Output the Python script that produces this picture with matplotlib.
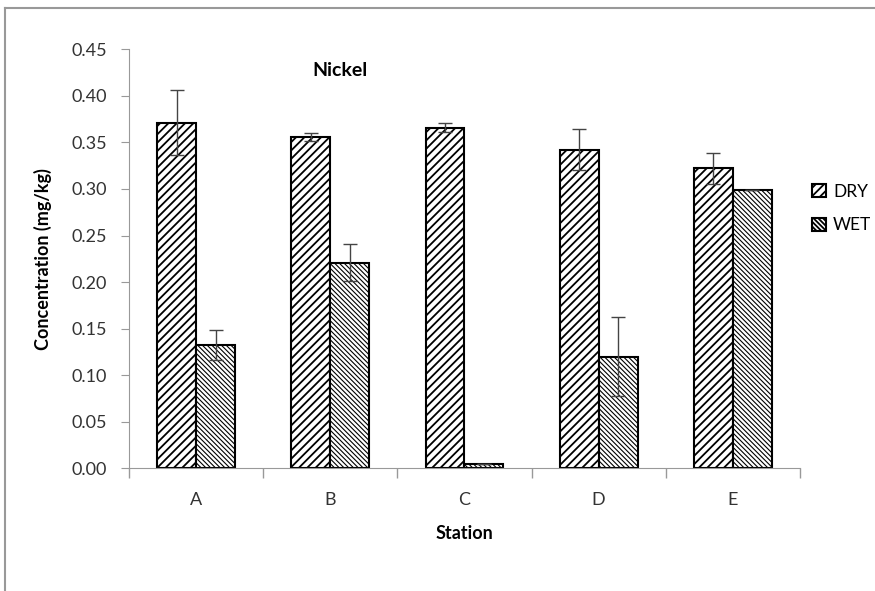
import matplotlib.pyplot as plt
import numpy as np
from matplotlib.lines import Line2D

# data
stations = ['A', 'B', 'C', 'D', 'E']
dry = [0.371, 0.356, 0.366, 0.342, 0.322]
dry_err = [0.035, 0.004, 0.005, 0.022, 0.017]
wet = [0.132, 0.221, 0.005, 0.120, 0.299]
wet_err = [0.016, 0.020, 0.0, 0.042, 0.0]

plt.rcParams['font.family'] = ['Lato', 'DejaVu Sans']
plt.rcParams['hatch.linewidth'] = 1.3

fig = plt.figure(figsize=(8.75, 5.91), dpi=100)
ax = fig.add_axes([0.1474, 0.2076, 0.7668, 0.709])

x = np.arange(len(stations))
w = 0.29
ax.bar(x - w / 2, dry, w, color='white', edgecolor='black', hatch='////',
       linewidth=1.5, label='DRY')
wet_bars = ax.bar(x + w / 2, wet, w, color='white', edgecolor='black',
                  hatch='\\\\\\\\\\\\\\', linewidth=1.5, label='WET')
for b in wet_bars:
    if hasattr(b, 'set_hatch_linewidth'):
        b.set_hatch_linewidth(0.8)
ax.errorbar(x - w / 2, dry, yerr=dry_err, fmt='none', ecolor='#444444',
            elinewidth=1, capsize=5)
ax.errorbar(x + w / 2, wet, yerr=wet_err, fmt='none', ecolor='#444444',
            elinewidth=1, capsize=5)

ax.set_xlim(-0.5, 4.5)
ax.set_ylim(0, 0.45)
ax.set_yticks(np.arange(0, 0.451, 0.05))
ax.set_yticklabels([f'{v:.2f}' for v in np.arange(0, 0.451, 0.05)])
ax.set_xticks(x)
ax.set_xticklabels(stations)
ax.set_xticks(np.arange(-0.5, 4.6, 1), minor=True)
ax.tick_params(axis='x', which='major', length=0, pad=17, labelsize=13)
ax.tick_params(axis='x', which='minor', length=7, width=1)
ax.tick_params(axis='y', length=6, color='#999999', labelsize=13,
               labelcolor='#333333', pad=10)
ax.tick_params(axis='x', which='both', color='#999999', labelcolor='#333333')
for s in ['top', 'right']:
    ax.spines[s].set_visible(False)
for s in ['left', 'bottom']:
    ax.spines[s].set_color('#999999')

ax.set_xlabel('Station', fontweight='bold', fontsize=13, labelpad=12)
ax.set_ylabel('Concentration (mg/kg)', fontweight='bold', fontsize=13, labelpad=14)
ax.text(0.315, 0.95, 'Nickel', transform=ax.transAxes, ha='center',
        va='center', fontweight='bold', fontsize=14)

ax.legend(loc='center left', bbox_to_anchor=(0.995, 0.62), frameon=False,
          handlelength=0.8, handleheight=0.8, fontsize=12.5, labelspacing=1.0,
          handletextpad=0.4)

# outer frame (top and left edges)
fig.add_artist(Line2D([5 / 875, 1], [1 - 8 / 591, 1 - 8 / 591],
                      transform=fig.transFigure, color='#999999', lw=1.5))
fig.add_artist(Line2D([5 / 875, 5 / 875], [0, 1 - 8 / 591],
                      transform=fig.transFigure, color='#999999', lw=1.5))

fig.savefig('out.png', dpi=100)
